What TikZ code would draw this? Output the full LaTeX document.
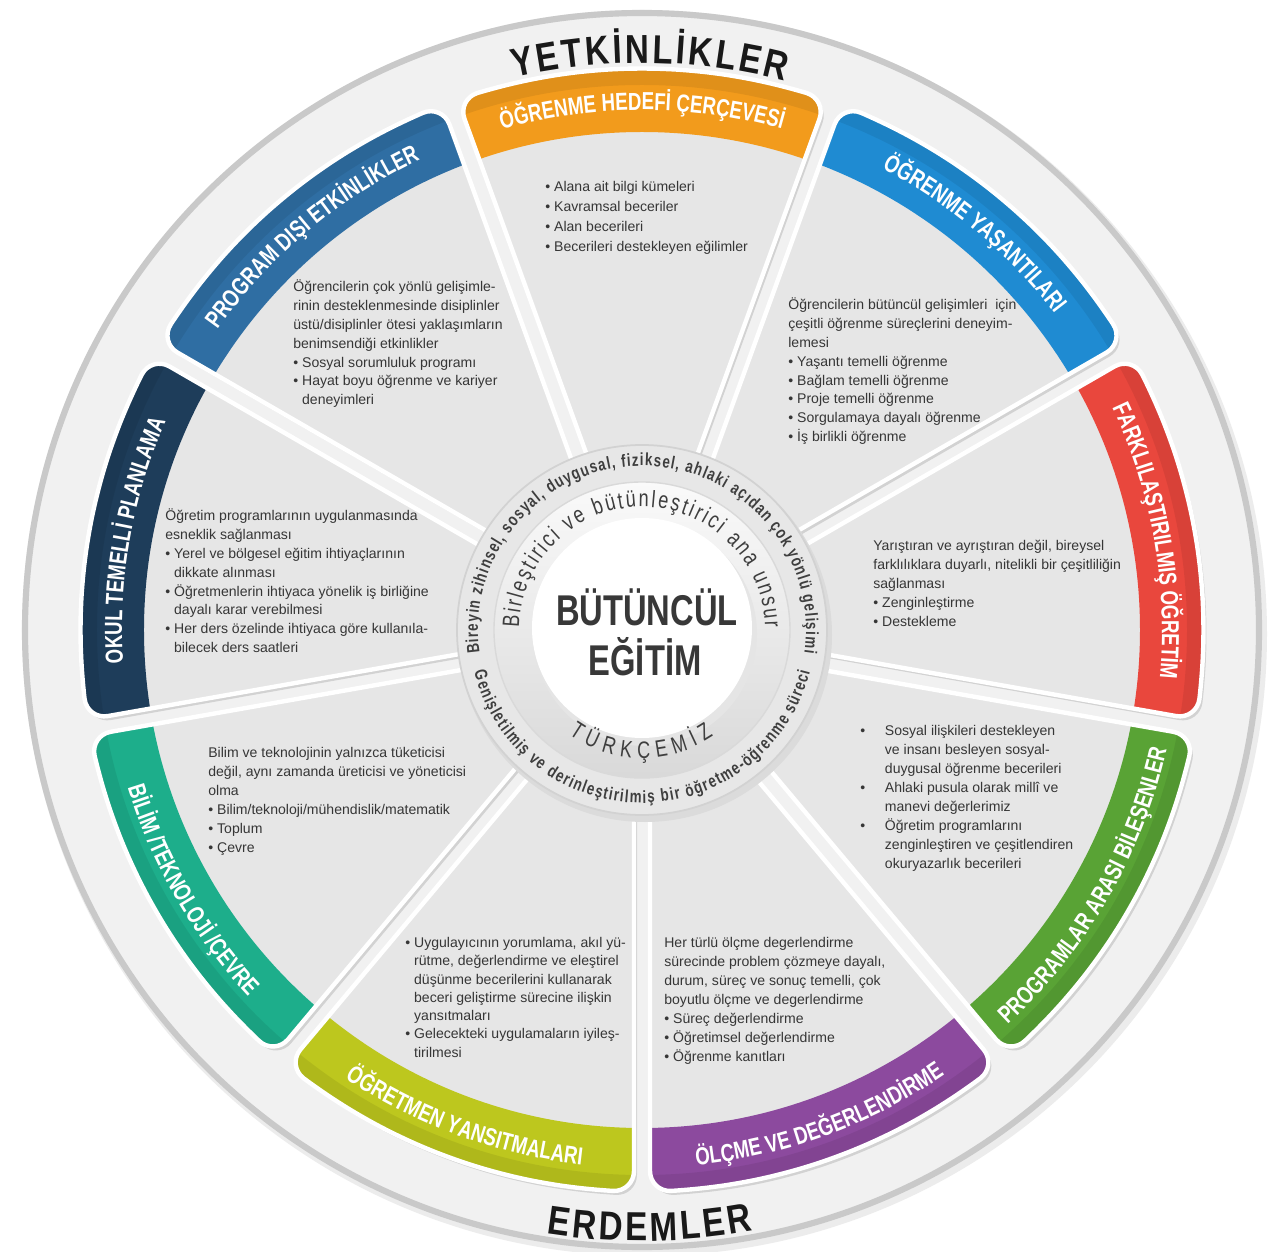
\documentclass[tikz,border=0pt]{standalone}
\usepackage{fontspec}
\setmainfont{Liberation Sans}
\newfontfamily\condfont{Liberation Sans}[FakeStretch=0.82]
\newfontfamily\tcond{Liberation Sans}[FakeStretch=0.76]
\usetikzlibrary{calc,decorations.text}
\definecolor{cOrange}{HTML}{F29B1C}
\definecolor{cBlue}{HTML}{1F8BD2}
\definecolor{cRed}{HTML}{E9473D}
\definecolor{cGreen}{HTML}{59A335}
\definecolor{cPurple}{HTML}{8C4A9E}
\definecolor{cYellow}{HTML}{BDC71E}
\definecolor{cTeal}{HTML}{1DAE8B}
\definecolor{cNavy}{HTML}{1E3D5A}
\definecolor{cSteel}{HTML}{2F6EA3}
\definecolor{txt}{HTML}{363636}
\definecolor{ringtxt}{HTML}{3E3E3E}
\definecolor{panelg}{HTML}{E6E6E6}
\definecolor{discg}{HTML}{F1F1F1}
\definecolor{rimg}{HTML}{C9C9C9}
\definecolor{ringA}{HTML}{E7E7E7}
\newcommand\titlef{\tcond\bfseries\fontsize{14}{14}\selectfont}
\newcommand\ringf{\tcond\bfseries\fontsize{10}{10}\selectfont}
\newcommand\innerf{\tcond\fontsize{13.5}{14}\selectfont}
\newcommand\bigf{\condfont\bfseries\fontsize{23}{23}\selectfont}
\newcommand\bodyf{\fontsize{8}{10.8}\selectfont}
\newcommand\bl{•\ }
\newcommand\ind{\hphantom{•\ }}
\newcommand\gb{\makebox[14pt][l]{•}}
\newcommand\gi{\hspace*{14pt}}
\newcommand\ppath[1]{($(#1-20:150)+(#1+70:8)$) -- ($(#1-20:562)+(#1+70:8)$) -- (#1-15:562) -- (#1-10:562) -- (#1-5:562) -- (#1:562) -- (#1+5:562) -- (#1+10:562) -- (#1+15:562) -- ($(#1+20:562)+(#1-70:8)$) -- ($(#1+20:150)+(#1-70:8)$) -- cycle}
\newcommand\sector[2]{%
  \fill[gray!35, rounded corners=12pt, shift={(3,-4)}] \ppath{#1};
  \begin{scope}
    \clip[rounded corners=12pt] \ppath{#1};
    \fill[panelg] (0,0) circle (600);
    \fill[#2, even odd rule] (0,0) circle (600) (0,0) circle (498);
    \fill[black, opacity=0.07, even odd rule] (0,0) circle (600) (0,0) circle (545);
  \end{scope}
  \draw[white, line width=2.5pt, rounded corners=12pt] \ppath{#1};
}
\newcommand\cwtitle[2]{\path[decorate,decoration={text along path,text={|\titlef|#2},text align=center,text color=white}] (#1+21:520) arc[start angle=#1+21,end angle=#1-21,radius=520];}
\newcommand\ccwtitle[2]{\path[decorate,decoration={text along path,text={|\titlef|#2},text align=center,text color=white}] (#1-21:538) arc[start angle=#1-21,end angle=#1+21,radius=538];}
\tikzset{body/.style={anchor=north west, inner sep=0pt, align=left, font=\bodyf, text=txt}}
\begin{document}
\begin{tikzpicture}[x=0.02cm, y=0.02cm]
\useasboundingbox (-642,-621) rectangle (629,630);
\fill[white] (-642,-621) rectangle (629,630);
% outer disc
\fill[gray!15] (3,-4) circle (622);
\fill[discg] (0,0) circle (620);
\draw[rimg, line width=3.5pt] (0,0) circle (617);
% sectors
\sector{90}{cOrange}
\sector{50}{cBlue}
\sector{10}{cRed}
\sector{-30}{cGreen}
\sector{-70}{cPurple}
\sector{-110}{cYellow}
\sector{-150}{cTeal}
\sector{170}{cNavy}
\sector{130}{cSteel}
% titles
\cwtitle{90}{ÖĞRENME HEDEFİ ÇERÇEVESİ}
\cwtitle{50}{ÖĞRENME YAŞANTILARI}
\cwtitle{10}{FARKLILAŞTIRILMIŞ ÖĞRETİM}
\ccwtitle{-30}{PROGRAMLAR ARASI BİLEŞENLER}
\ccwtitle{-70}{ÖLÇME VE DEĞERLENDİRME}
\ccwtitle{-110}{ÖĞRETMEN YANSITMALARI}
\ccwtitle{-150}{BİLİM /TEKNOLOJİ /ÇEVRE}
\cwtitle{170}{OKUL TEMELLİ PLANLAMA}
\cwtitle{130}{PROGRAM DIŞI ETKİNLİKLER}
% outer labels
\path[decorate,decoration={text along path,text={|\bigf|YETKİNLİKLER},text align={fit to path},text color=black!90}] (103:567) arc[start angle=103,end angle=75.4,radius=567];
\path[decorate,decoration={text along path,text={|\bigf|ERDEMLER},text align={fit to path},text color=black!90}] (-99:611) arc[start angle=-99,end angle=-79.5,radius=611];
% central rings
\fill[gray!28] (3,-5) circle (187);
\fill[ringA] (0,0) circle (185);
\draw[gray!35, line width=1pt] (0,0) circle (185);
\shade[top color=white!96!gray, middle color=white!92!gray, bottom color=gray!30] (0,0) circle (148);
\draw[gray!30, line width=0.8pt] (0,0) circle (148);
\fill[gray!20] (3,-4) circle (112);
\fill[white] (0,2) circle (110);
% ring texts
\path[decorate,decoration={text along path,text={|\ringf|Bireyin zihinsel, sosyal, duygusal, fiziksel, ahlaki açıdan çok yönlü gelişimi},text align={fit to path},text color=ringtxt}] (188:164) arc[start angle=188,end angle=-8,radius=164];
\path[decorate,decoration={text along path,text={|\ringf|Genişletilmiş ve derinleştirilmiş bir öğretme-öğrenme süreci},text align={fit to path},text color=ringtxt}] (-166:173) arc[start angle=-166,end angle=-14,radius=173];
\path[decorate,decoration={text along path,text={|\innerf|Birleştirici ve bütünleştirici ana unsur},text align={fit to path},text color=ringtxt}] (179:123) arc[start angle=179,end angle=1,radius=123];
\path[decorate,decoration={text along path,text={|\innerf|TÜRKÇEMİZ},text align={fit to path},text color=ringtxt}] (-125:128) arc[start angle=-125,end angle=-56,radius=128];
\node[font=\tcond\bfseries\fontsize{24.5}{24.5}\selectfont, text=black!78] (t1) at (5,23) {BÜTÜNCÜL};
\node[font=\tcond\bfseries\fontsize{24.5}{24.5}\selectfont, text=black!78] (t2) at (3,-27) {EĞİTİM};
% body texts
\node[body, font=\fontsize{8}{11.3}\selectfont] (b1) at (-97,449) {\bl Alana ait bilgi kümeleri\\ \bl Kavramsal beceriler\\ \bl Alan becerileri\\ \bl Becerileri destekleyen eğilimler};
\node[body] (b2) at (146,333) {Öğrencilerin bütüncül gelişimleri\ \ için\\ çeşitli öğrenme süreçlerini deneyim-\\ lemesi\\ \bl Yaşantı temelli öğrenme\\ \bl Bağlam temelli öğrenme\\ \bl Proje temelli öğrenme\\ \bl Sorgulamaya dayalı öğrenme\\ \bl İş birlikli öğrenme};
\node[body] (b3) at (231,90) {Yarıştıran ve ayrıştıran değil, bireysel\\ farklılıklara duyarlı, nitelikli bir çeşitliliğin\\ sağlanması\\ \bl Zenginleştirme\\ \bl Destekleme};
\node[body] (b4) at (218,-95) {\gb Sosyal ilişkileri destekleyen\\ \gi ve insanı besleyen sosyal-\\ \gi duygusal öğrenme becerileri\\ \gb Ahlaki pusula olarak millî ve\\ \gi manevi değerlerimiz\\ \gb Öğretim programlarını\\ \gi zenginleştiren ve çeşitlendiren\\ \gi okuryazarlık becerileri};
\node[body] (b5) at (22,-307) {Her türlü ölçme degerlendirme\\ sürecinde problem çözmeye dayalı,\\ durum, süreç ve sonuç temelli, çok\\ boyutlu ölçme ve degerlendirme\\ \bl Süreç değerlendirme\\ \bl Öğretimsel değerlendirme\\ \bl Öğrenme kanıtları};
\node[body, font=\fontsize{8}{10.4}\selectfont] (b6) at (-237,-307) {\bl Uygulayıcının yorumlama, akıl yü-\\ \ind rütme, değerlendirme ve eleştirel\\ \ind düşünme becerilerini kullanarak\\ \ind beceri geliştirme sürecine ilişkin\\ \ind yansıtmaları\\ \bl Gelecekteki uygulamaların iyileş-\\ \ind tirilmesi};
\node[body] (b7) at (-434,-117) {Bilim ve teknolojinin yalnızca tüketicisi\\ değil, aynı zamanda üreticisi ve yöneticisi\\ olma\\ \bl Bilim/teknoloji/mühendislik/matematik\\ \bl Toplum\\ \bl Çevre};
\node[body] (b8) at (-477,122) {Öğretim programlarının uygulanmasında\\ esneklik sağlanması\\ \bl Yerel ve bölgesel eğitim ihtiyaçlarının\\ \ind dikkate alınması\\ \bl Öğretmenlerin ihtiyaca yönelik iş birliğine\\ \ind dayalı karar verebilmesi\\ \bl Her ders özelinde ihtiyaca göre kullanıla-\\ \ind bilecek ders saatleri};
\node[body] (b9) at (-349,351) {Öğrencilerin çok yönlü gelişimle-\\ rinin desteklenmesinde disiplinler\\ üstü/disiplinler ötesi yaklaşımların\\ benimsendiği etkinlikler\\ \bl Sosyal sorumluluk programı\\ \bl Hayat boyu öğrenme ve kariyer\\ \ind deneyimleri};
\end{tikzpicture}
\end{document}
